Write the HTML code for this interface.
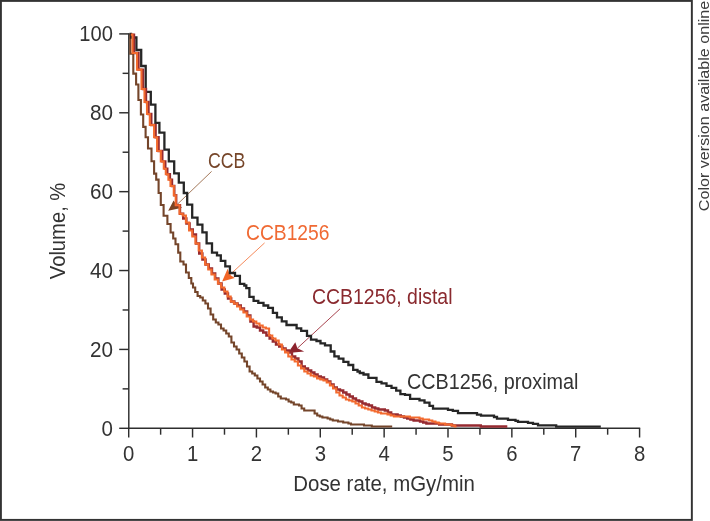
<!DOCTYPE html>
<html><head><meta charset="utf-8"><style>
html,body{margin:0;padding:0;background:#fff;}
body{width:710px;height:521px;overflow:hidden;font-family:"Liberation Sans",sans-serif;}
svg{display:block;will-change:transform;filter:blur(0.3px);}
</style></head><body>
<svg width="710" height="521" viewBox="0 0 710 521">
<rect x="0.9" y="0.9" width="690.95" height="519.0" fill="none" stroke="#333" stroke-width="1.95"/>
<line x1="119.2" y1="428.30" x2="128.8" y2="428.30" stroke="#2e2e2e" stroke-width="1.45"/>
<line x1="122.6" y1="388.86" x2="128.8" y2="388.86" stroke="#2e2e2e" stroke-width="1.45"/>
<line x1="119.2" y1="349.42" x2="128.8" y2="349.42" stroke="#2e2e2e" stroke-width="1.45"/>
<line x1="122.6" y1="309.98" x2="128.8" y2="309.98" stroke="#2e2e2e" stroke-width="1.45"/>
<line x1="119.2" y1="270.54" x2="128.8" y2="270.54" stroke="#2e2e2e" stroke-width="1.45"/>
<line x1="122.6" y1="231.10" x2="128.8" y2="231.10" stroke="#2e2e2e" stroke-width="1.45"/>
<line x1="119.2" y1="191.66" x2="128.8" y2="191.66" stroke="#2e2e2e" stroke-width="1.45"/>
<line x1="122.6" y1="152.22" x2="128.8" y2="152.22" stroke="#2e2e2e" stroke-width="1.45"/>
<line x1="119.2" y1="112.78" x2="128.8" y2="112.78" stroke="#2e2e2e" stroke-width="1.45"/>
<line x1="122.6" y1="73.34" x2="128.8" y2="73.34" stroke="#2e2e2e" stroke-width="1.45"/>
<line x1="119.2" y1="33.90" x2="128.8" y2="33.90" stroke="#2e2e2e" stroke-width="1.45"/>
<line x1="128.70" y1="428.3" x2="128.70" y2="437.5" stroke="#2e2e2e" stroke-width="1.45"/>
<line x1="160.63" y1="428.3" x2="160.63" y2="434.7" stroke="#2e2e2e" stroke-width="1.45"/>
<line x1="192.56" y1="428.3" x2="192.56" y2="437.5" stroke="#2e2e2e" stroke-width="1.45"/>
<line x1="224.49" y1="428.3" x2="224.49" y2="434.7" stroke="#2e2e2e" stroke-width="1.45"/>
<line x1="256.42" y1="428.3" x2="256.42" y2="437.5" stroke="#2e2e2e" stroke-width="1.45"/>
<line x1="288.35" y1="428.3" x2="288.35" y2="434.7" stroke="#2e2e2e" stroke-width="1.45"/>
<line x1="320.28" y1="428.3" x2="320.28" y2="437.5" stroke="#2e2e2e" stroke-width="1.45"/>
<line x1="352.21" y1="428.3" x2="352.21" y2="434.7" stroke="#2e2e2e" stroke-width="1.45"/>
<line x1="384.14" y1="428.3" x2="384.14" y2="437.5" stroke="#2e2e2e" stroke-width="1.45"/>
<line x1="416.07" y1="428.3" x2="416.07" y2="434.7" stroke="#2e2e2e" stroke-width="1.45"/>
<line x1="448.00" y1="428.3" x2="448.00" y2="437.5" stroke="#2e2e2e" stroke-width="1.45"/>
<line x1="479.93" y1="428.3" x2="479.93" y2="434.7" stroke="#2e2e2e" stroke-width="1.45"/>
<line x1="511.86" y1="428.3" x2="511.86" y2="437.5" stroke="#2e2e2e" stroke-width="1.45"/>
<line x1="543.79" y1="428.3" x2="543.79" y2="434.7" stroke="#2e2e2e" stroke-width="1.45"/>
<line x1="575.72" y1="428.3" x2="575.72" y2="437.5" stroke="#2e2e2e" stroke-width="1.45"/>
<line x1="607.65" y1="428.3" x2="607.65" y2="434.7" stroke="#2e2e2e" stroke-width="1.45"/>
<line x1="639.58" y1="428.3" x2="639.58" y2="437.5" stroke="#2e2e2e" stroke-width="1.45"/>
<line x1="128.8" y1="33.3" x2="128.8" y2="428.95" stroke="#2e2e2e" stroke-width="1.45"/>
<line x1="128.15" y1="428.3" x2="640.2" y2="428.3" stroke="#2e2e2e" stroke-width="1.45"/>
<line x1="211.6" y1="171.4" x2="176.6" y2="205.0" stroke="#a3785a" stroke-width="1.0"/><path d="M168.2,210.8 L173.6,200.6 L176.6,205.0 L182.2,207.8 Z" fill="#7a4424"/>
<line x1="264.6" y1="242.9" x2="229.9" y2="274.8" stroke="#f58a5c" stroke-width="1.0"/><path d="M222.1,281.6 L227.6,268.8 L229.9,274.8 L234.8,278.0 Z" fill="#f26526"/>
<line x1="340.1" y1="308.8" x2="297.4" y2="348.2" stroke="#a8444f" stroke-width="1.0"/><path d="M287.9,352.9 L295.3,342.3 L297.4,348.2 L304.2,351.4 Z" fill="#8c232d"/>
<path d="M129.6,34H130.3V53.8H133.3V73.6H136.1V84.5H138.4V100H140.9V114.5H143.2V126.9H145.6V137.3H148V148.5H151.5V161.3H154.1V173.6H156.2V179.6H158.6V193H160.8V205H163.6V215.7H167.4V224H170.6V232.5H173.2V238.5H175.5V244.2H178.2V252.6H180.3V261.5H183.5V264.5H186V272.5H188.8V278H191.3V283.5H193V287.5H195.2V292H197.6V296H200.20V297.50H202.80V300.50H205.40V303.50H208.00V308.50H210.60V314.50H213.20V319.50H215.80V322.50H218.40V324.50H221.00V328.50H223.60V330.50H226.20V333.50H228.80V336.50H231.40V342.50H234.00V346.50H236.60V349.50H239.20V353.50H241.80V357.50H244.40V361.50H247.00V366.50H249.60V371.50H252.20V373.50H254.80V375.50H257.40V378.50H260.00V381.50H262.60V384.50H265.20V387.50H267.80V389.50H270.40V391.50H273.00V392.50H275.60V393.50H278.20V396.50H280.80V398.50H283.40V398.50H286.00V399.50H288.60V401.50H291.20V402.50H293.80V404.50H296.40V404.50H299.00V405.50H301.60V408.50H304.20V410.50H306.80V410.50H309.40V410.50H312.00V410.50H314.60V413.50H317.20V415.50H319.80V416.50H322.40V417.50H325.00V417.50H327.60V418.50H330.20V419.50H332.80V420.50H335.40V420.50H338.00V421.50H340.60V421.50H343.20V422.50H345.80V422.50H348.40V423.50H351.00V424.50H353.60V424.50H356.20V424.50H358.80V424.50H361.40V424.50H364.00V425.50H366.60V425.50H369.20V425.50H371.80V426.50H374.40V426.50H377.00V426.50H379.60V426.50H382.20V426.50H384.80V426.50H387.40V426.50H390.00V426.50H392.20V426.50" fill="none" stroke="#74452a" stroke-width="2.1" stroke-linejoin="miter"/>
<path d="M129.5,34H131V37.5H136.4V50H141.2V66H145.7V91.8H150.8V104.6H155.4V122.8H159.4V132.6H164.4V149.7H168.8V161.3H174.2V173.4H178.8V182.6H183.8V193H187.2V204.6H192.2V217.6H197.5V224.6H202.4V232.3H206.6V243.4H212V252.6H217V255.3H220.8V260.8H225.3V266.3H229.9V273H235V275.8H239.9V283.8H244.3V285.5H246.3V288.2H249.4V296.8H253.6V300.8H258.3V302.8H263.5V305.5H268.2V307.8H272.9V312.9H277V317.4H281.8V321.4H286.5V325H296.6V328.3H301.2V330.8H307V335.9H311V339.6H316.5V341H320.5V343.3H325V345.3H330.7V351.5H334.4V356.4H338.7V358.6H343.4V361.8H348.4V365H353.2V369.8H357.5V371.5H359.8V373H363.5V374.5H368.4V377.8H376.5V381.8H381.5V383.3H386.5V385.8H391.5V387.8H396.2V390.7H400.4V394.1H405V394.8H410.1V398.8H419.5V400.4H424.5V402.7H429.5V405.8H433V408.6H448V409.8H452.8V410.8H458V413.1H477V414.6H481V415.7H494V417H497V418.6H508V419.8H515.5V420.8H518V421.8H528V422.8H533V423.9H538V425.3H556.2V426.7H600.8" fill="none" stroke="#262626" stroke-width="2.3" stroke-linejoin="miter"/>
<path d="M131.4,34.6H134V53H138.5V69.6H143V89H146V102H148.5V114H151.3V125H155.6V137.2H158.6V151H162.3V161.4H165.3V168.8H167.3V174.2H169.9V179.6H172V186H174.3V195.3H176.2V205.3H180V213.8H183.20V218.50H186.40V223.50H189.60V229.50H192.80V234.50H196.00V243.50H199.20V253.50H202.40V259.50H205.60V264.50H208.80V268.50H212.00V273.50H215.20V278.50H218.40V283.50H221.60V289.50H224.80V293.50H228.00V298.50H231.20V301.50H234.40V303.50H237.60V305.50H240.80V308.50H244.00V311.50H247.20V315.50H250.40V321.50H253.60V326.50H256.80V327.50H260.00V330.50H263.20V332.50H266.40V335.50H269.60V338.50H272.80V341.50H276.00V344.50H279.20V346.50H282.40V348.50H285.60V350.50H288.80V352.50H292.00V356.50H295.20V358.50H298.40V361.50H301.60V366.50H304.80V368.50H308.00V370.50H311.20V372.50H314.40V374.50H317.60V376.50H320.80V377.50H324.00V379.50H327.20V381.50H330.40V384.50H333.60V387.50H336.80V389.50H340.00V390.50H343.20V392.50H346.40V394.50H349.60V396.50H352.80V398.50H356.00V400.50H359.20V401.50H362.40V403.50H365.60V404.50H368.80V405.50H372.00V407.50H375.20V408.50H378.40V409.50H381.60V409.50H384.80V410.50H388.00V412.50H391.20V414.50H394.40V414.50H397.60V415.50H400.80V416.50H404.00V417.50H407.20V418.50H410.40V419.50H413.60V420.50H416.80V420.50H420.00V421.50H423.20V422.50H426.40V423.50H429.60V423.50H432.80V423.50H436.00V423.50H439.20V424.50H442.40V424.50H445.60V424.50H448.80V424.50H452.00V425.50H455.20V425.50H458.40V425.50H461.60V425.50H464.80V425.50H468.00V425.50H471.20V425.50H474.40V425.50H477.60V425.50H480.80V426.50H484.00V426.50H487.20V426.50H490.40V426.50H493.60V426.50H496.80V426.50H500.00V426.50H503.20V426.50H506.40V426.50H507.30V426.50" fill="none" stroke="#962a30" stroke-width="2.4" stroke-linejoin="miter"/>
<path d="M130.8,34.6H132.5V53H137V69.6H141.5V89H144.5V102H147V114H149.8V125H154.1V137.2H157.1V151H160.8V161.4H163.8V168.8H165.8V174.2H168.4V179.6H170.5V186H173.8V195.3H175.7V205.3H179.5V213.8H182.70V215.50H185.90V222.50H189.10V230.50H192.30V236.50H195.50V243.50H198.70V250.50H201.90V257.50H205.10V264.50H208.30V269.50H211.50V274.50H214.70V279.50H217.90V283.50H221.10V287.50H224.30V291.50H227.50V296.50H230.70V301.50H233.90V303.50H237.10V306.50H240.30V309.50H243.50V312.50H246.70V316.50H249.90V319.50H253.10V321.50H256.30V323.50H259.50V325.50H262.70V327.50H265.90V328.50H269.10V335.50H272.30V338.50H275.50V340.50H278.70V344.50H281.90V349.50H285.10V352.50H288.30V356.50H291.50V359.50H294.70V361.50H297.90V365.50H301.10V368.50H304.30V371.50H307.50V373.50H310.70V375.50H313.90V376.50H317.10V378.50H320.30V379.50H323.50V380.50H326.70V382.50H329.90V385.50H333.10V388.50H336.30V392.50H339.50V395.50H342.70V397.50H345.90V399.50H349.10V400.50H352.30V401.50H355.50V403.50H358.70V405.50H361.90V407.50H365.10V408.50H368.30V409.50H371.50V410.50H374.70V411.50H377.90V412.50H381.10V413.50H384.30V413.50H387.50V414.50H390.70V415.50H393.90V416.50H397.10V416.50H400.30V416.50H403.50V416.50H406.70V416.50H409.90V417.50H413.10V417.50H416.30V417.50H419.50V418.50H422.70V419.50H425.90V419.50H429.10V420.50H432.30V421.50H435.50V422.50H438.70V423.50H441.90V423.50H445.10V424.50H448.30V424.50H451.50V425.50H454.70V426.50H456.60V426.50" fill="none" stroke="#f36a2e" stroke-width="2.1" stroke-linejoin="miter"/>
<text x="101.50" y="435.60" font-family="Liberation Sans, sans-serif" font-size="21.7" fill="#333" textLength="11.4" lengthAdjust="spacingAndGlyphs">0</text>
<text x="89.90" y="356.72" font-family="Liberation Sans, sans-serif" font-size="21.7" fill="#333" textLength="23.0" lengthAdjust="spacingAndGlyphs">20</text>
<text x="89.90" y="277.84" font-family="Liberation Sans, sans-serif" font-size="21.7" fill="#333" textLength="23.0" lengthAdjust="spacingAndGlyphs">40</text>
<text x="89.90" y="198.96" font-family="Liberation Sans, sans-serif" font-size="21.7" fill="#333" textLength="23.0" lengthAdjust="spacingAndGlyphs">60</text>
<text x="89.90" y="120.08" font-family="Liberation Sans, sans-serif" font-size="21.7" fill="#333" textLength="23.0" lengthAdjust="spacingAndGlyphs">80</text>
<text x="79.30" y="41.20" font-family="Liberation Sans, sans-serif" font-size="21.7" fill="#333" textLength="33.6" lengthAdjust="spacingAndGlyphs">100</text>
<text x="123.05" y="460.9" font-family="Liberation Sans, sans-serif" font-size="21.7" fill="#333" textLength="11.3" lengthAdjust="spacingAndGlyphs">0</text>
<text x="186.91" y="460.9" font-family="Liberation Sans, sans-serif" font-size="21.7" fill="#333" textLength="11.3" lengthAdjust="spacingAndGlyphs">1</text>
<text x="250.77" y="460.9" font-family="Liberation Sans, sans-serif" font-size="21.7" fill="#333" textLength="11.3" lengthAdjust="spacingAndGlyphs">2</text>
<text x="314.63" y="460.9" font-family="Liberation Sans, sans-serif" font-size="21.7" fill="#333" textLength="11.3" lengthAdjust="spacingAndGlyphs">3</text>
<text x="378.49" y="460.9" font-family="Liberation Sans, sans-serif" font-size="21.7" fill="#333" textLength="11.3" lengthAdjust="spacingAndGlyphs">4</text>
<text x="442.35" y="460.9" font-family="Liberation Sans, sans-serif" font-size="21.7" fill="#333" textLength="11.3" lengthAdjust="spacingAndGlyphs">5</text>
<text x="506.21" y="460.9" font-family="Liberation Sans, sans-serif" font-size="21.7" fill="#333" textLength="11.3" lengthAdjust="spacingAndGlyphs">6</text>
<text x="570.07" y="460.9" font-family="Liberation Sans, sans-serif" font-size="21.7" fill="#333" textLength="11.3" lengthAdjust="spacingAndGlyphs">7</text>
<text x="633.93" y="460.9" font-family="Liberation Sans, sans-serif" font-size="21.7" fill="#333" textLength="11.3" lengthAdjust="spacingAndGlyphs">8</text>
<text x="293.3" y="491.3" font-family="Liberation Sans, sans-serif" font-size="21.7" fill="#333" textLength="181.5" lengthAdjust="spacingAndGlyphs">Dose rate, mGy/min</text>
<text transform="translate(65.1,279.2) rotate(-90)" font-family="Liberation Sans, sans-serif" font-size="21.7" fill="#333" textLength="96.5" lengthAdjust="spacingAndGlyphs">Volume, %</text>
<text transform="translate(709.1,211.2) rotate(-90)" font-family="Liberation Sans, sans-serif" font-size="15.5" fill="#3d3d3d" textLength="210.5" lengthAdjust="spacingAndGlyphs">Color version available online</text>
<text x="208" y="168.3" font-family="Liberation Sans, sans-serif" font-size="21.7" fill="#76462a" textLength="37.4" lengthAdjust="spacingAndGlyphs">CCB</text>
<text x="246" y="239.6" font-family="Liberation Sans, sans-serif" font-size="21.7" fill="#f06a34" textLength="83.5" lengthAdjust="spacingAndGlyphs">CCB1256</text>
<text x="312" y="303.7" font-family="Liberation Sans, sans-serif" font-size="21.7" fill="#8a2a2f" textLength="140.5" lengthAdjust="spacingAndGlyphs">CCB1256, distal</text>
<text x="407" y="389.2" font-family="Liberation Sans, sans-serif" font-size="21.7" fill="#333" textLength="171.5" lengthAdjust="spacingAndGlyphs">CCB1256, proximal</text>
</svg>
</body></html>
